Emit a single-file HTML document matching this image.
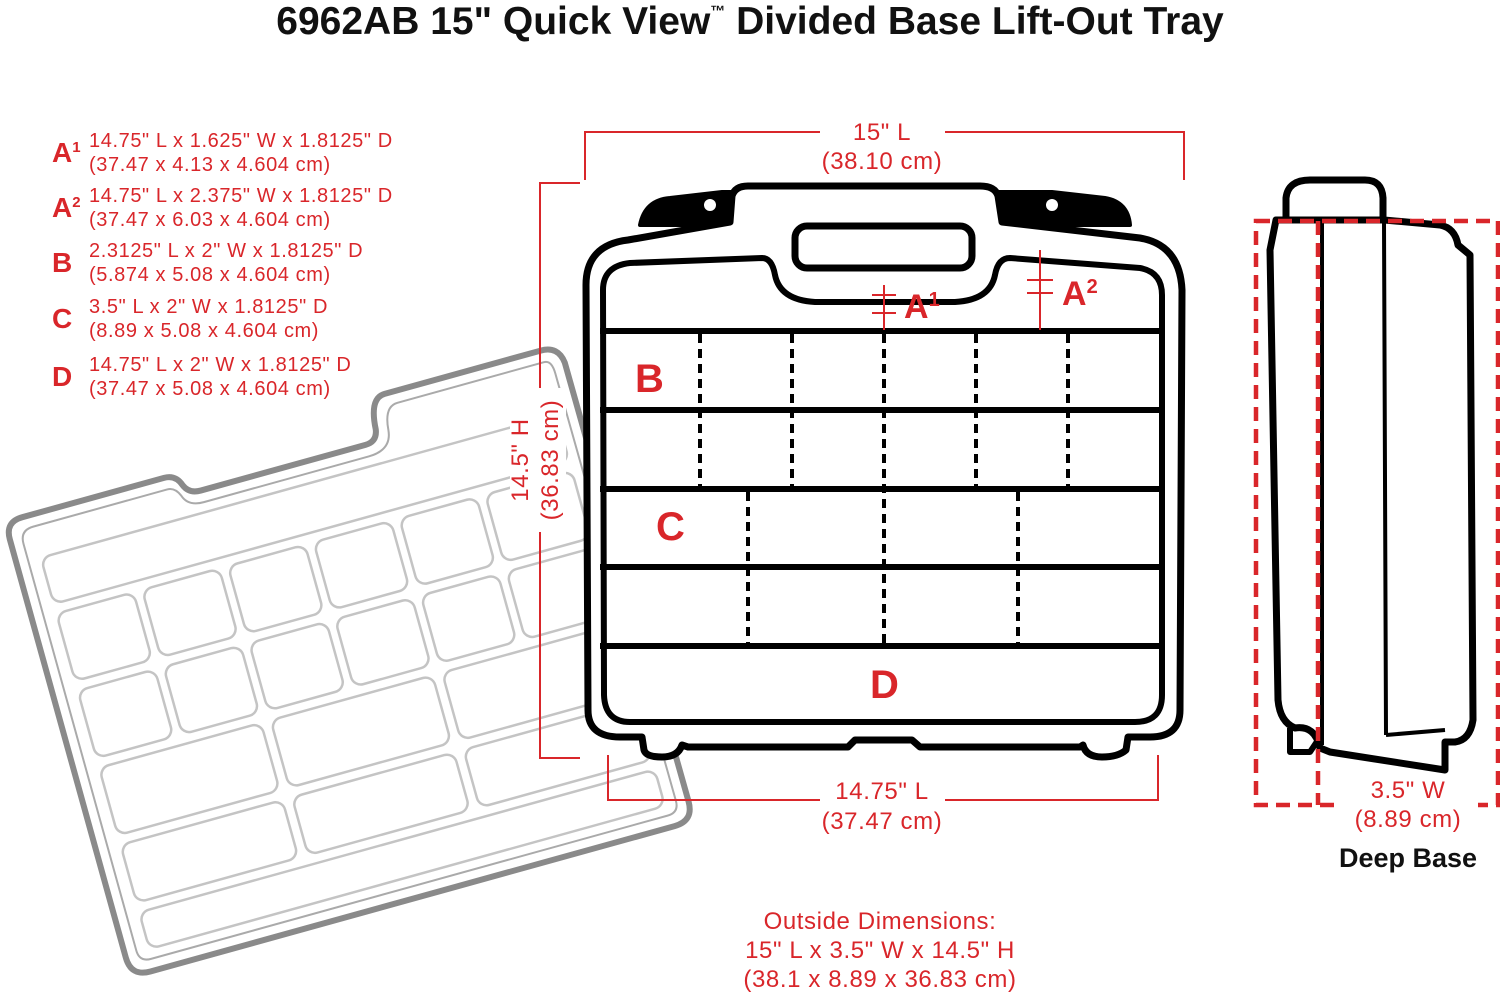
<!DOCTYPE html>
<html><head><meta charset="utf-8"><style>
body{margin:0;background:#fff}
svg{display:block}
text{font-family:"Liberation Sans",Arial,sans-serif}
.r{fill:#d9262a}
</style></head><body>
<svg width="1500" height="995" viewBox="0 0 1500 995" xmlns="http://www.w3.org/2000/svg">
<text x="750" y="34" text-anchor="middle" font-size="39" font-weight="bold" fill="#111">6962AB 15" Quick View<tspan font-size="15" dy="-18">™</tspan><tspan dy="18"> Divided Base Lift-Out Tray</tspan></text>

<!-- legend -->
<g class="r">
<text x="52" y="162" font-size="28" font-weight="bold">A<tspan font-size="15" dy="-10">1</tspan></text>
<text x="89" y="147" font-size="20" letter-spacing="0.6">14.75" L x 1.625" W x 1.8125" D</text>
<text x="89" y="171" font-size="20" letter-spacing="0.6">(37.47 x 4.13 x 4.604 cm)</text>
<text x="52" y="217" font-size="28" font-weight="bold">A<tspan font-size="15" dy="-10">2</tspan></text>
<text x="89" y="202" font-size="20" letter-spacing="0.6">14.75" L x 2.375" W x 1.8125" D</text>
<text x="89" y="226" font-size="20" letter-spacing="0.6">(37.47 x 6.03 x 4.604 cm)</text>
<text x="52" y="272" font-size="28" font-weight="bold">B</text>
<text x="89" y="257" font-size="20" letter-spacing="0.6">2.3125" L x 2" W x 1.8125" D</text>
<text x="89" y="281" font-size="20" letter-spacing="0.6">(5.874 x 5.08 x 4.604 cm)</text>
<text x="52" y="328" font-size="28" font-weight="bold">C</text>
<text x="89" y="313" font-size="20" letter-spacing="0.6">3.5" L x 2" W x 1.8125" D</text>
<text x="89" y="337" font-size="20" letter-spacing="0.6">(8.89 x 5.08 x 4.604 cm)</text>
<text x="52" y="386" font-size="28" font-weight="bold">D</text>
<text x="89" y="371" font-size="20" letter-spacing="0.6">14.75" L x 2" W x 1.8125" D</text>
<text x="89" y="395" font-size="20" letter-spacing="0.6">(37.47 x 5.08 x 4.604 cm)</text>
</g>

<!-- tray -->
<g transform="translate(5,522) rotate(-15.5)">
<path d="M18,0 L165,0 Q177,0 181,12 Q185,22 197,22 L368,22 Q380,22 382,10 Q384,-22 400,-22 L562,-22 Q580,-22 582,-4 L584,452 Q584,472 564,472 L20,472 Q0,472 0,452 L0,18 Q0,0 18,0 Z" fill="#fff" stroke="#8a8a8a" stroke-width="6"/>
<path d="M26,12 L165,12 Q173,12 177,22 Q181,34 197,34 L368,34 Q392,34 394,14 Q396,-10 410,-10 L562,-10 Q570,-10 570,4 L572,448 Q572,460 560,460 L24,460 Q12,460 12,448 L12,26 Q12,12 26,12 Z" fill="none" stroke="#aaa" stroke-width="2"/>
<g fill="none" stroke="#c4c4c4" stroke-width="2.5">
<rect x="25" y="44" width="535" height="48" rx="10"/>
<rect x="25" y="102" width="80" height="70" rx="10"/><rect x="114" y="102" width="80" height="70" rx="10"/><rect x="203" y="102" width="80" height="70" rx="10"/><rect x="292" y="102" width="80" height="70" rx="10"/><rect x="381" y="102" width="80" height="70" rx="10"/><rect x="470" y="102" width="90" height="70" rx="10"/>
<rect x="25" y="182" width="80" height="70" rx="10"/><rect x="114" y="182" width="80" height="70" rx="10"/><rect x="203" y="182" width="80" height="70" rx="10"/><rect x="292" y="182" width="80" height="70" rx="10"/><rect x="381" y="182" width="80" height="70" rx="10"/><rect x="470" y="182" width="90" height="70" rx="10"/>
<rect x="25" y="262" width="168" height="70" rx="10"/><rect x="203" y="262" width="168" height="70" rx="10"/><rect x="381" y="262" width="179" height="70" rx="10"/>
<rect x="25" y="342" width="168" height="60" rx="10"/><rect x="203" y="342" width="168" height="60" rx="10"/><rect x="381" y="342" width="179" height="60" rx="10"/>
<rect x="25" y="412" width="535" height="38" rx="10"/>
</g>
</g>

<!-- main case -->
<g stroke="#000" stroke-linejoin="round">
<path d="M640,225 Q645,200 670,198 L722,192 L1052,192 L1105,198 Q1128,202 1130,225 Z" fill="#000" stroke-width="4"/>
<circle cx="710" cy="205" r="6" fill="#fff" stroke="none"/><circle cx="1052" cy="205" r="6" fill="#fff" stroke="none"/>
<path d="M628,240 L730,222 L732,196 Q735,186 748,186 L980,186 Q995,186 998,196 L1002,222 L1140,238 Q1180,245 1182,290 L1180,710 Q1180,737 1150,737 L1128,737 L1126,750 Q1118,757 1102,757 Q1086,757 1083,745 L1080,747 L920,747 L912,740 L855,740 L848,747 L688,747 L682,745 Q678,757 662,757 Q646,757 644,750 L642,737 L620,737 Q588,737 588,710 L586,285 Q586,245 628,240 Z" fill="#fff" stroke-width="7"/>
<path d="M630,263 L762,258 Q772,258 775,275 Q780,300 815,302 L955,302 Q990,300 995,275 Q998,258 1010,258 L1140,268 Q1162,272 1162,295 L1162,695 Q1162,722 1135,722 L630,722 Q605,722 604,695 L603,290 Q603,266 630,263 Z" fill="none" stroke-width="6"/>
<rect x="795" y="226" width="177" height="42" rx="12" fill="none" stroke-width="7"/>
<g stroke-width="6"><line x1="600" y1="331" x2="1165" y2="331"/><line x1="600" y1="410" x2="1165" y2="410"/><line x1="600" y1="489" x2="1165" y2="489"/><line x1="600" y1="567" x2="1165" y2="567"/><line x1="600" y1="646" x2="1165" y2="646"/></g>
<g stroke-width="4" stroke-dasharray="9 6"><line x1="700" y1="334" x2="700" y2="487"/><line x1="792" y1="334" x2="792" y2="487"/><line x1="884" y1="334" x2="884" y2="644"/><line x1="976" y1="334" x2="976" y2="487"/><line x1="1068" y1="334" x2="1068" y2="487"/><line x1="748" y1="492" x2="748" y2="644"/><line x1="1018" y1="492" x2="1018" y2="644"/></g>
</g>
<g class="r" font-weight="bold">
<text x="635" y="392" font-size="40">B</text>
<text x="656" y="540" font-size="40">C</text>
<text x="870" y="698" font-size="40">D</text>
<text x="904" y="318" font-size="34">A<tspan font-size="20" dy="-12">1</tspan></text>
<text x="1062" y="305" font-size="34">A<tspan font-size="20" dy="-12">2</tspan></text>
</g>
<g stroke="#d9262a" stroke-width="2" fill="none">
<path d="M884,285 V330 M872,295 H896 M872,313 H896"/>
<path d="M1040,250 V330 M1027,280 H1053 M1027,293 H1053"/>
<path d="M585,180 V132 H820 M945,132 H1184 V180"/>
<path d="M580,183 H540 V758 H580"/>
<path d="M608,755 V800 H820 M945,800 H1158 V755"/>
</g>
<g fill="#d9262a" font-size="24" text-anchor="middle" letter-spacing="0.6">
<text x="882" y="140">15" L</text><text x="882" y="169">(38.10 cm)</text>
<text x="882" y="799">14.75" L</text><text x="882" y="829">(37.47 cm)</text>
<g transform="translate(540,460) rotate(-90)"><rect x="-72" y="-30" width="144" height="56" fill="#fff"/><text x="0" y="-12">14.5" H</text><text x="0" y="18">(36.83 cm)</text></g>
<text x="880" y="929">Outside Dimensions:</text>
<text x="880" y="958">15" L x 3.5" W x 14.5" H</text>
<text x="880" y="987">(38.1 x 8.89 x 36.83 cm)</text>
</g>
<text x="1408" y="867" text-anchor="middle" font-size="27" font-weight="bold" fill="#111">Deep Base</text>

<!-- side view -->
<g stroke="#000" fill="#fff" stroke-linejoin="round">
<path d="M1286,222 L1286,198 Q1288,180 1310,180 L1365,180 Q1382,180 1383,198 L1383,222" stroke-width="7"/>
<path d="M1276,220 L1384,220 L1440,225 Q1455,228 1458,245 L1470,255 L1473,720 Q1470,740 1455,742 L1445,742 L1445,770 L1330,752 L1320,748 Q1315,725 1295,728 Q1280,722 1278,700 L1270,250 Z" stroke-width="7"/>
<path d="M1384,222 L1386,735 M1322,222 L1322,745 M1386,735 L1445,730" fill="none" stroke-width="4"/>
<path d="M1290,728 L1290,752 L1310,752 L1318,740" fill="none" stroke-width="6"/>
</g>
<g stroke="#d9262a" stroke-width="4.5" fill="none" stroke-dasharray="14 8">
<rect x="1256" y="221" width="242" height="584"/>
<line x1="1318" y1="221" x2="1318" y2="805"/>
</g>
<rect x="1340" y="778" width="138" height="56" fill="#fff"/>
<g fill="#d9262a" font-size="24" text-anchor="middle" letter-spacing="0.6"><text x="1408" y="798">3.5" W</text><text x="1408" y="827">(8.89 cm)</text></g>
</svg>
</body></html>
